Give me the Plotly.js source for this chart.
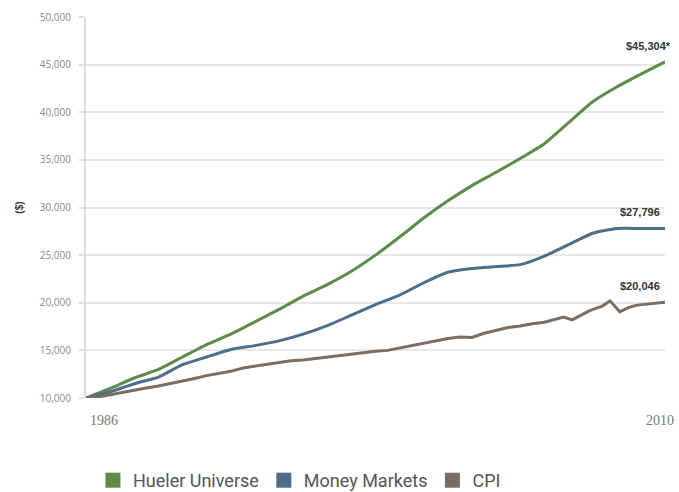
<!DOCTYPE html>
<html>
<head>
<meta charset="utf-8">
<script src="https://cdn.plot.ly/plotly-3.0.1.min.js"></script>
<style>html,body{margin:0;padding:0;background:#fff;}#chart{width:679px;height:492px;}</style>
</head>
<body>
<div id="chart"></div>
<script>
// Hueler Universe (yearly)
const huelerYears = [1986,1987,1988,1989,1990,1991,1992,1993,1994,1995,1996,1997,1998,1999,2000,2001,2002,2003,2004,2005,2006,2007,2008,2009,2010];
const huelerValues = [10000,11000,12100,13000,14300,15600,16700,18000,19300,20700,21900,23300,25000,26900,28900,30700,32300,33700,35150,36700,38900,41100,42650,44000,45304];

// Money Markets (yearly)
const mmYears = [1986,1987,1988,1989,1990,1991,1992,1993,1994,1995,1996,1997,1998,1999,2000,2001,2002,2003,2004,2005,2006,2007,2008,2009,2010];
const mmValues = [10000,10650,11500,12200,13500,14300,15100,15500,16000,16700,17600,18700,19800,20800,22100,23200,23600,23800,24000,24900,26100,27300,27800,27800,27796];

// CPI (about semi-annual)
const cpiYears = [1986,1986.5,1987,1987.5,1988,1988.5,1989,1989.5,1990,1990.5,1991,1991.5,1992,1992.5,1993,1993.5,1994,1994.5,1995,1995.5,1996,1996.5,1997,1997.5,1998,1998.5,1999,1999.5,2000,2000.5,2001,2001.5,2002,2002.5,2003,2003.5,2004,2004.5,2005,2005.5,2005.8,2006.15,2006.5,2006.9,2007.4,2007.72,2008.13,2008.5,2008.84,2009.4,2010];
const cpiValues = [10000,10100,10350,10600,10800,11050,11250,11500,11750,12050,12350,12550,12800,13150,13350,13550,13700,13900,14000,14150,14300,14500,14650,14800,14900,15000,15250,15500,15800,16050,16250,16400,16350,16800,17100,17400,17550,17800,17950,18250,18500,18200,18700,19200,19650,20200,19050,19500,19750,19900,20046];

const seriesNames = ["Hueler Universe","Money Markets","CPI"];
const seriesColors = ["#5e8a4a","#4e6d8a","#7b6c64"];
const endSuffix = ["*","",""];

const yTickVals = [10000,15000,20000,25000,30000,35000,40000,45000,50000];
const xLabels = ["1986","2010"];
const xLabelYears = [1986,2010];

const allX = [huelerYears, mmYears, cpiYears];
const allY = [huelerValues, mmValues, cpiValues];

const traces = [];
for (let i = 0; i < 3; i++) {
  traces.push({
    x: allX[i], y: allY[i], type: 'scatter', mode: 'lines',
    line: {color: seriesColors[i], width: 3, shape: i < 2 ? 'spline' : 'linear', smoothing: 0.5},
    showlegend: false, hoverinfo: 'skip'
  });
}
for (let i = 0; i < 3; i++) {
  traces.push({
    x: [null], y: [null], type: 'scatter', mode: 'markers', name: seriesNames[i],
    marker: {symbol: 'square', size: 15, color: seriesColors[i]}, showlegend: true
  });
}

const fmt = v => '$' + v.toLocaleString('en-US');
const annotations = [];
for (let i = 0; i < 3; i++) {
  const ys = allY[i];
  annotations.push({
    x: allX[i][allX[i].length-1], y: ys[ys.length-1], xref: 'x', yref: 'y',
    text: fmt(ys[ys.length-1]) + endSuffix[i], showarrow: false,
    xanchor: i === 0 ? 'right' : 'center', yanchor: 'bottom',
    xshift: i === 0 ? 8 : -25, yshift: 8,
    font: {family: 'Liberation Sans Narrow, Liberation Sans, Arial', size: 11, color: '#333', weight: 'bold'}
  });
}
annotations.push({
  x: xLabelYears[0], y: 0, xref: 'x', yref: 'paper', text: xLabels[0], showarrow: false,
  xanchor: 'left', yanchor: 'top', xshift: 2, yshift: -13,
  font: {family: 'Liberation Serif, DejaVu Serif, serif', size: 14, color: '#777'}
});
annotations.push({
  x: xLabelYears[1], y: 0, xref: 'x', yref: 'paper', text: xLabels[1], showarrow: false,
  xanchor: 'center', yanchor: 'top', xshift: -5, yshift: -13,
  font: {family: 'Liberation Serif, DejaVu Serif, serif', size: 14, color: '#777'}
});

const layout = {
  width: 679, height: 492,
  margin: {l: 86, r: 14, t: 17, b: 94, autoexpand: false},
  paper_bgcolor: '#fff', plot_bgcolor: '#fff',
  showlegend: true,
  legend: {orientation: 'h', x: 0.012, xanchor: 'left', y: -0.168, yanchor: 'top',
    font: {family: 'Roboto, Arial', size: 18, color: '#555'}, itemgap: 27},
  xaxis: {range: [1986, 2010], showgrid: false, zeroline: false, showline: false,
    showticklabels: false, ticks: '', fixedrange: true},
  yaxis: {range: [10000, 50000], tickvals: yTickVals, tickformat: ',d',
    showgrid: true, gridcolor: '#e8e8e8', gridwidth: 2, zeroline: false,
    showline: true, linecolor: '#dddddd', linewidth: 2,
    ticks: 'outside', ticklen: 5, tickcolor: '#e0e0e0', tickwidth: 2,
    ticklabelstandoff: 6,
    tickfont: {family: 'Open Sans, Arial', size: 10, color: '#888'},
    title: {text: '($)', standoff: 14, font: {family: 'Liberation Sans, Arial', size: 10, color: '#333', weight: 'bold'}}},
  annotations: annotations
};

Plotly.newPlot('chart', traces, layout, {displayModeBar: false, staticPlot: true});
</script>
</body>
</html>
